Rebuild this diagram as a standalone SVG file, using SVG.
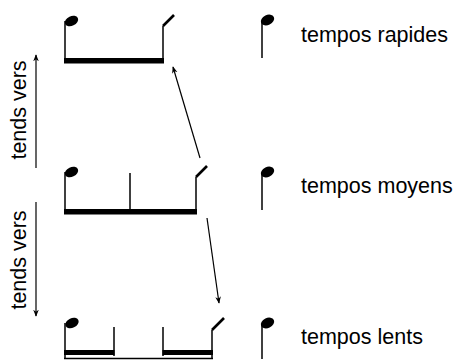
<svg xmlns="http://www.w3.org/2000/svg" width="457" height="360" viewBox="0 0 457 360">
  <defs>
    <marker id="arrow" viewBox="0 0 10 10" refX="9" refY="5" markerWidth="7" markerHeight="7" markerUnits="userSpaceOnUse" orient="auto">
      <path d="M0,1 L10,5 L0,9 L3,5 Z" fill="#000"/>
    </marker>
  </defs>
  <style>
    .stem { stroke: #000; stroke-width: 1.5; fill: none; }
    .flag { stroke: #000; stroke-width: 2.6; fill: none; }
    .beam { fill: #000; }
    .head { fill: #000; }
    .label { font-family: "Liberation Sans", Arial, sans-serif; font-size: 21.5px; fill: #000; }
    .conn { stroke: #000; stroke-width: 1.2; fill: none; marker-end: url(#arrow); }
  </style>
  <rect width="457" height="360" fill="#fff"/>

  <!-- fast tempo: one long beam -->
  <g id="rapide">
    <ellipse class="head" cx="71.5" cy="21" rx="7" ry="4.8" transform="rotate(-25 71.5 21)"/>
    <line class="stem" x1="65" y1="21" x2="65" y2="60"/>
    <line class="stem" x1="163" y1="26" x2="163" y2="60"/>
    <line class="flag" x1="163" y1="26" x2="174" y2="15"/>
    <rect class="beam" x="64" y="58" width="100" height="5.5"/>
  </g>

  <!-- medium tempo: beam split by a middle stem -->
  <g id="moyen">
    <ellipse class="head" cx="71.5" cy="172" rx="7" ry="4.8" transform="rotate(-25 71.5 172)"/>
    <line class="stem" x1="65" y1="172" x2="65" y2="211"/>
    <line class="stem" x1="130" y1="173" x2="130" y2="211"/>
    <line class="stem" x1="196" y1="177" x2="196" y2="211"/>
    <line class="flag" x1="196" y1="177" x2="207" y2="166"/>
    <rect class="beam" x="64" y="209" width="133" height="5.5"/>
  </g>

  <!-- slow tempo: two short beams over a thin line -->
  <g id="lent">
    <ellipse class="head" cx="72" cy="323" rx="7" ry="4.8" transform="rotate(-25 72 323)"/>
    <line class="stem" x1="65" y1="323" x2="65" y2="358"/>
    <line class="stem" x1="114" y1="327" x2="114" y2="356"/>
    <line class="stem" x1="163" y1="327" x2="163" y2="356"/>
    <line class="stem" x1="212" y1="330" x2="212" y2="358"/>
    <line class="flag" x1="212" y1="330" x2="224" y2="318"/>
    <rect class="beam" x="64" y="350" width="50.5" height="5"/>
    <rect class="beam" x="162.5" y="350" width="50.5" height="5"/>
    <line class="stem" x1="64" y1="358.5" x2="213" y2="358.5"/>
  </g>

  <!-- single notes with labels -->
  <g id="note-rapide">
    <ellipse class="head" cx="267.5" cy="20" rx="7" ry="5" transform="rotate(-25 267.5 20)"/>
    <line class="stem" x1="262" y1="21" x2="262" y2="58"/>
    <text class="label" x="301" y="42">tempos rapides</text>
  </g>
  <g id="note-moyen">
    <ellipse class="head" cx="267.5" cy="172" rx="7" ry="5" transform="rotate(-25 267.5 172)"/>
    <line class="stem" x1="262" y1="173" x2="262" y2="210"/>
    <text class="label" x="301" y="193">tempos moyens</text>
  </g>
  <g id="note-lent">
    <ellipse class="head" cx="267.5" cy="323" rx="7" ry="5" transform="rotate(-25 267.5 323)"/>
    <line class="stem" x1="262" y1="324" x2="262" y2="359"/>
    <text class="label" x="301" y="344">tempos lents</text>
  </g>

  <!-- side labels -->
  <g id="tend-haut">
    <text class="label" transform="translate(26 110) rotate(-90)" text-anchor="middle">tends vers</text>
  </g>
  <g id="tend-bas">
    <text class="label" transform="translate(26 260) rotate(-90)" text-anchor="middle">tends vers</text>
  </g>

  <!-- connectors -->
  <g id="connectors">
    <line class="conn" x1="36" y1="168" x2="36" y2="55"/>
    <line class="conn" x1="36" y1="202" x2="36" y2="316"/>
    <line class="conn" x1="200" y1="158" x2="173" y2="67"/>
    <line class="conn" x1="207" y1="218" x2="219" y2="303"/>
  </g>
</svg>
